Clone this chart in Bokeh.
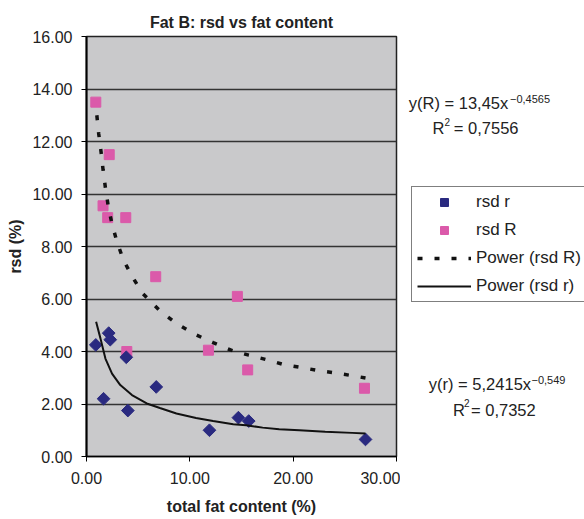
import math
from bokeh.plotting import figure
from bokeh.layouts import row
from bokeh.models import Legend, LegendItem, Label, NumeralTickFormatter, FixedTicker, Range1d
from bokeh.embed import file_html
from bokeh.resources import INLINE

# ---- data ----
fat_r = [0.9, 1.65, 2.15, 2.3, 3.85, 4.0, 6.75, 11.9, 14.7, 15.7, 27.0]
rsd_r = [4.25, 2.2, 4.7, 4.45, 3.78, 1.75, 2.65, 1.0, 1.48, 1.35, 0.65]

fat_R = [0.9, 1.6, 2.05, 2.2, 3.8, 3.9, 6.7, 11.8, 14.6, 15.6, 26.9]
rsd_R = [13.5, 9.55, 9.1, 11.5, 9.1, 4.0, 6.85, 4.05, 6.1, 3.3, 2.6]

# trend lines as drawn in the reference
pow_R_x = [1.0, 1.18, 1.41, 1.6, 1.83, 2.1, 2.47, 2.95, 3.56, 4.4, 5.44, 7.05,
           8.7, 10.5, 12.25, 14.0, 15.7, 17.4, 19.1, 20.8, 22.5, 24.3, 26.0, 27.0]
pow_R_y = [13.0, 12.3, 11.6, 10.93, 10.24, 9.55, 8.85, 8.18, 7.5, 6.87, 6.21, 5.57,
           5.07, 4.65, 4.34, 4.05, 3.86, 3.69, 3.5, 3.39, 3.27, 3.17, 3.06, 2.99]

pow_r_x = [0.93, 1.35, 1.83, 2.47, 3.27, 4.4, 5.83, 7.1, 8.7, 10.6, 12.25, 14.2,
           15.45, 17.05, 18.65, 20.6, 23.1, 25.7, 27.0]
pow_r_y = [5.13, 4.5, 3.73, 3.16, 2.72, 2.34, 2.02, 1.85, 1.64, 1.47, 1.35, 1.23,
           1.19, 1.1, 1.04, 1.0, 0.94, 0.9, 0.88]

x_ticks = [0, 10, 20, 30]
y_ticks = [0, 2, 4, 6, 8, 10, 12, 14, 16]

series_names = ["rsd r", "rsd R", "Power (rsd R)", "Power (rsd r)"]

FONT = "Liberation Sans"
TXT = "#222222"
PINK = "#DB5AAA"
NAVY = "#2A2A80"
TOP, BOTTOM = 36, 63

p = figure(width=400, height=519, output_backend="svg", toolbar_location=None,
           x_range=Range1d(0, 30), y_range=Range1d(0, 16),
           min_border_left=86, min_border_right=4, min_border_top=TOP, min_border_bottom=BOTTOM,
           title="Fat B: rsd vs fat content")

p.title.align = "center"
p.title.text_font = FONT
p.title.text_font_size = "16px"
p.title.text_font_style = "bold"
p.title.text_color = TXT
p.title.standoff = 12

p.background_fill_color = "#C9C9CB"
p.border_fill_color = "white"
p.outline_line_color = "#222222"
p.outline_line_width = 1.5

p.xgrid.visible = False
p.ygrid.ticker = FixedTicker(ticks=y_ticks)
p.ygrid.grid_line_color = "#333333"
p.ygrid.grid_line_width = 1.4

for ax in (p.xaxis[0], p.yaxis[0]):
    ax.axis_line_color = "black"
    ax.axis_line_width = 1.5
    ax.major_tick_line_color = "black"
    ax.major_tick_out = 5
    ax.major_tick_in = 0
    ax.minor_tick_out = 0
    ax.minor_tick_in = 0
    ax.major_label_text_font = FONT
    ax.major_label_text_font_size = "16px"
    ax.major_label_text_color = TXT
    ax.axis_label_text_font = FONT
    ax.axis_label_text_font_size = "16px"
    ax.axis_label_text_font_style = "bold"
    ax.axis_label_text_color = TXT
    ax.formatter = NumeralTickFormatter(format="0.00")

p.xaxis.ticker = FixedTicker(ticks=x_ticks)
p.yaxis.ticker = FixedTicker(ticks=y_ticks)
p.xaxis.axis_label = "total fat content (%)"
p.yaxis.axis_label = "rsd (%)"
p.xaxis.major_label_standoff = 10
p.yaxis.major_label_standoff = 9
p.xaxis.axis_label_standoff = 11
p.yaxis.axis_label_standoff = 5
p.yaxis.axis_line_width = 2

r_sq = p.scatter(fat_R, rsd_R, marker="square", size=10, color=PINK)
r_dm = p.scatter(fat_r, rsd_r, marker="square", size=9, angle=math.pi / 4, color=NAVY)
l_R = p.line(pow_R_x, pow_R_y, line_color="#111111", line_width=3.5, line_dash="5 12")
l_r = p.line(pow_r_x, pow_r_y, line_color="#111111", line_width=2)

# ---- side panel: legend and fit equations ----
p2 = figure(width=184, height=519, output_backend="svg", toolbar_location=None,
            x_range=Range1d(0, 184), y_range=Range1d(0, 16),
            min_border_left=0, min_border_right=0, min_border_top=TOP, min_border_bottom=BOTTOM,
            x_axis_location=None, y_axis_location=None)
p2.grid.visible = False
p2.outline_line_color = None
p2.background_fill_color = "white"
p2.border_fill_color = "white"

# legend keys (one point each, kept outside the visible range)
off = [-500, -499]
k_dm = p2.scatter(off[:1], off[:1], marker="square", size=9, angle=math.pi / 4, color=NAVY)
k_sq = p2.scatter(off[:1], off[:1], marker="square", size=10, color=PINK)
k_R = p2.line(off, off, line_color="#111111", line_width=3.5, line_dash="5 12")
k_r = p2.line(off, off, line_color="#111111", line_width=2)

legend = Legend(items=[
    LegendItem(label=series_names[0], renderers=[k_dm]),
    LegendItem(label=series_names[1], renderers=[k_sq]),
    LegendItem(label=series_names[2], renderers=[k_R]),
    LegendItem(label=series_names[3], renderers=[k_r]),
], location=(11, 154))
legend.label_text_font = FONT
legend.label_text_font_size = "17px"
legend.label_text_color = TXT
legend.glyph_width = 54
legend.glyph_height = 20
legend.label_height = 20
legend.spacing = 8
legend.padding = 5
legend.margin = 0
legend.label_standoff = 5
legend.border_line_color = "black"
legend.border_line_width = 1
legend.background_fill_color = "white"
legend.background_fill_alpha = 1
p2.add_layout(legend)

def lab(x, y, t, size="16.5px"):
    p2.add_layout(Label(x=x, y=y, text=t, text_font=FONT, text_font_size=size,
                        text_color=TXT, text_baseline="middle", text_align="left"))

lab(8.3, 13.46, "y(R) = 13,45x")
lab(109.5, 13.62, "\u22120,4565", "11px")
lab(32.0, 12.53, "R")
lab(44.0, 12.76, "2", "10px")
lab(53.3, 12.53, "= 0,7556")

lab(28.3, 2.75, "y(r) = 5,2415x")
lab(131.0, 2.92, "\u22120,549", "11px")
lab(52.5, 1.78, "R")
lab(63.5, 2.02, "2", "10px")
lab(70.5, 1.78, "= 0,7352")

layout = row(p, p2)
open("out.html", "w").write(file_html(layout, INLINE))
